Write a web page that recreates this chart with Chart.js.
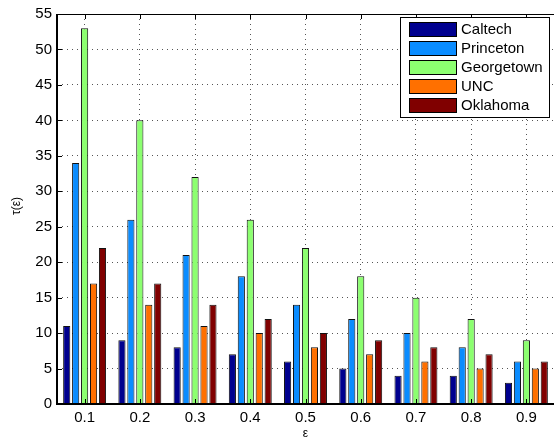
<!DOCTYPE html>
<html>
<head>
<meta charset="utf-8">
<script src="https://cdn.jsdelivr.net/npm/chart.js@4/dist/chart.umd.min.js"></script>
<style>
html,body{margin:0;padding:0;background:#fff;overflow:hidden;}
#wrap{width:554px;height:438px;position:relative;}
</style>
</head>
<body>
<div id="wrap"><canvas id="c" width="554" height="438"></canvas></div>
<script>
const categories = ['0.1','0.2','0.3','0.4','0.5','0.6','0.7','0.8','0.9'];
const seriesNames = ['Caltech','Princeton','Georgetown','UNC','Oklahoma'];
const caltech    = [11, 9, 8, 7, 6, 5, 4, 4, 3];
const princeton  = [34, 26, 21, 18, 14, 12, 10, 8, 6];
const georgetown = [53, 40, 32, 26, 22, 18, 15, 12, 9];
const unc        = [17, 14, 11, 10, 8, 7, 6, 5, 5];
const oklahoma   = [22, 17, 14, 12, 10, 9, 8, 7, 6];
const colors = ['#00008F', '#0A8CFF', '#8CFF70', '#FF7000', '#800000'];
const yTicks = [0,5,10,15,20,25,30,35,40,45,50,55];
const xTitle = 'ε';
const yTitle = 'τ(ε)';

const FONT = '"Liberation Sans", Arial, Helvetica, sans-serif';
const allSeries = [caltech, princeton, georgetown, unc, oklahoma];

const framePlugin = {
  id: 'frame',
  afterDraw(chart) {
    const ctx = chart.ctx;
    const a = chart.chartArea;
    const xs = chart.scales.x, ys = chart.scales.y;
    ctx.save();
    ctx.strokeStyle = '#000';
    ctx.lineWidth = 1;
    ctx.beginPath();
    yTicks.forEach(v => {
      const y = Math.round(ys.getPixelForValue(v)) + 0.5;
      ctx.moveTo(a.left, y); ctx.lineTo(a.left + 5, y);
    });
    categories.forEach((c, i) => {
      const x = Math.round(xs.getPixelForValue(i)) + 0.5;
      ctx.moveTo(x, a.bottom); ctx.lineTo(x, a.bottom - 5);
      ctx.moveTo(x, a.top); ctx.lineTo(x, a.top + 5);
    });
    ctx.stroke();
    ctx.lineWidth = 1;
    ctx.beginPath();
    ctx.moveTo(a.left, a.top + 0.5); ctx.lineTo(a.right, a.top + 0.5);
    ctx.stroke();
    ctx.lineWidth = 2;
    ctx.beginPath();
    ctx.moveTo(a.left, a.top); ctx.lineTo(a.left, a.bottom + 1);
    ctx.moveTo(a.left - 1, a.bottom); ctx.lineTo(a.right, a.bottom);
    ctx.stroke();

    // axis titles
    ctx.fillStyle = '#000';
    ctx.font = '12px ' + FONT;
    ctx.textAlign = 'center';
    ctx.textBaseline = 'middle';
    ctx.fillText(xTitle, (a.left + a.right) / 2, 434);
    ctx.save();
    ctx.translate(17, (a.top + a.bottom) / 2 - 3);
    ctx.rotate(-Math.PI / 2);
    ctx.fillText(yTitle, 0, 0);
    ctx.restore();

    // legend
    const lx = 400, ly = 17, lw = 149, lh = 100;
    ctx.fillStyle = '#fff';
    ctx.fillRect(lx, ly, lw, lh);
    ctx.lineWidth = 1;
    ctx.strokeStyle = '#000';
    ctx.strokeRect(lx + 0.5, ly + 0.5, lw, lh);
    ctx.font = '15px ' + FONT;
    ctx.textBaseline = 'middle';
    ctx.textAlign = 'left';
    chart.data.datasets.forEach((ds, i) => {
      const cy = ly + 12 + i * 19;
      ctx.fillStyle = ds.backgroundColor;
      ctx.fillRect(409, cy - 7, 47, 14);
      ctx.strokeStyle = '#000';
      ctx.strokeRect(409.5, cy - 6.5, 47, 14);
      ctx.fillStyle = '#000';
      ctx.fillText(ds.label, 461, cy + 1);
    });
    ctx.restore();
  }
};

new Chart(document.getElementById('c'), {
  type: 'bar',
  data: {
    labels: categories,
    datasets: seriesNames.map((n, i) => ({
      label: n,
      data: allSeries[i],
      backgroundColor: colors[i],
      borderColor: '#111',
      borderWidth: 1,
      categoryPercentage: 0.81,
      barPercentage: 0.8
    }))
  },
  options: {
    responsive: false,
    animation: false,
    devicePixelRatio: 1,
    layout: { padding: { top: 10, right: 0, left: 0, bottom: 0 } },
    plugins: { legend: { display: false }, tooltip: { enabled: false } },
    scales: {
      x: {
        offset: true,
        grid: { offset: false, color: '#555', drawTicks: false, lineWidth: 1 },
        border: { display: false, dash: [1,4] },
        ticks: { color: '#000', font: { family: FONT, size: 15 }, padding: 5, maxRotation: 0 },
        afterFit(s) { s.height = 34; }
      },
      y: {
        min: 0, max: 55,
        afterBuildTicks(s) { s.ticks = yTicks.map(v => ({ value: v })); },
        grid: { color: '#555', drawTicks: false, lineWidth: 1 },
        border: { display: false, dash: [1,4] },
        ticks: { color: '#000', font: { family: FONT, size: 15 }, padding: 5 },
        afterFit(s) { s.width = 57; }
      }
    }
  },
  plugins: [framePlugin]
});
</script>
</body>
</html>
